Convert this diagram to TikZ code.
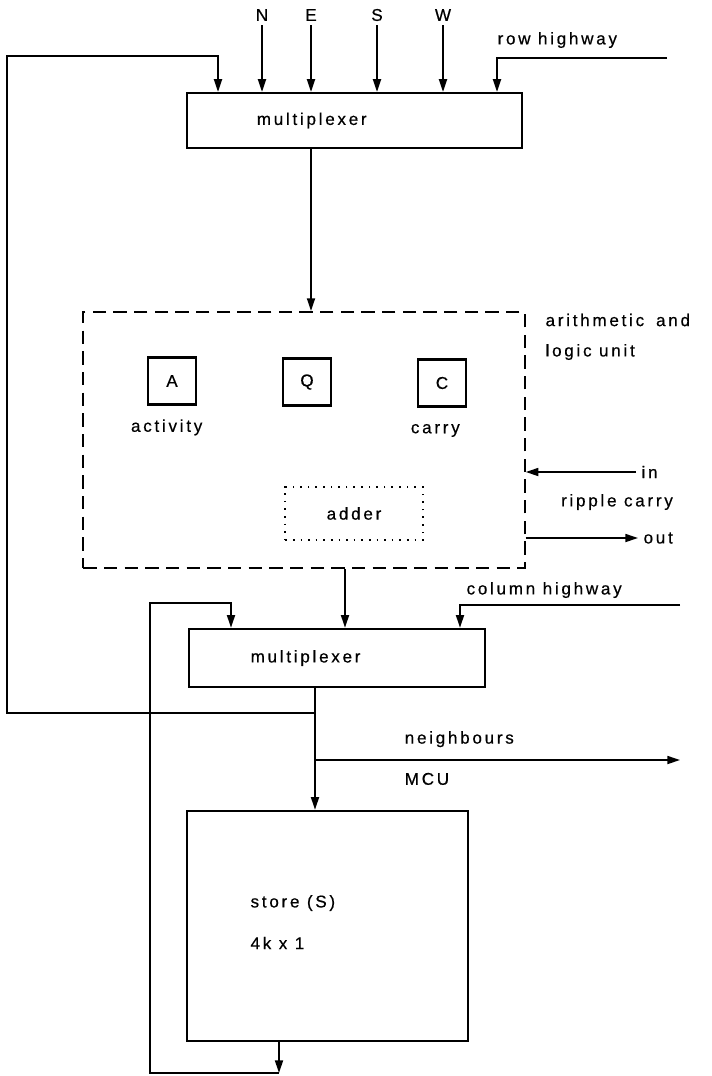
\documentclass[tikz,border=0pt]{standalone}
\usepackage{fontspec}
\setmainfont{Liberation Sans}[LetterSpace=16, FakeBold=0.5]
\usetikzlibrary{arrows.meta, positioning}

\begin{document}
\begin{tikzpicture}[x=0.75pt, y=-0.75pt,
  font=\fontsize{12.8}{14}\selectfont,
  blk/.style={draw, line width=1.9pt, inner sep=0pt},
  reg/.style={draw, line width=2.2pt, minimum width=36pt, minimum height=35pt, inner sep=0pt},
  txt/.style={inner sep=1pt},
  arr/.style={-{Triangle[length=9.5pt, width=6pt]}, line width=1.3pt}]

  \useasboundingbox (0,0) rectangle (712,1076);

  % blocks
  \node[blk, minimum width=251pt, minimum height=41pt] (mux1) at (354.5,120.5) {};
  \node[blk, line width=1.6pt, dash pattern=on 10pt off 5.5pt, minimum width=331pt, minimum height=192pt] (alu) at (304,440) {};
  \node[reg] (regA) at (172,381) {A};
  \node[reg] (regQ) at (307,382) {Q};
  \node[reg] (regC) at (442,383) {C};
  \node[blk, line width=1.6pt, dash pattern=on 1.2pt off 4.5pt, minimum width=103pt, minimum height=40pt] (adder) at (354,513.5) {adder};
  \node[blk, minimum width=222pt, minimum height=43.5pt] (mux2) at (337,658) {};
  \node[blk, minimum width=211pt, minimum height=172.5pt] (store) at (327.5,926) {};

  % labels
  \node[txt, right=52pt of mux1.west] {multiplexer};
  \node[txt, right=46pt of mux2.west] {multiplexer};
  \node[txt, below=9pt of regA, xshift=-4pt] {activity};
  \node[txt, below=11pt of regC, xshift=-5pt] {carry};
  \node[txt, anchor=west] at (544,320) {arithmetic\hspace{0.7em}and};
  \node[txt, anchor=west] at (544,352) {logic unit};
  \node[txt] at (617,502) {ripple carry};
  \node[txt, anchor=west] at (496,40) {row highway};
  \node[txt, anchor=west] at (465,590) {column highway};
  \node[txt, anchor=west] at (249,903) {store (S)};
  \node[txt, anchor=west] at (249,943) {4k x 1};

  % inputs to the top multiplexer
  \foreach \dir/\xx in {N/262, E/311, S/377, W/443}
    \node[txt, inner sep=3pt] (in\dir) at (\xx,15) {\dir};
  \foreach \dir in {N,E,S,W}
    \draw[arr] (in\dir) -- (in\dir |- mux1.north);

  \coordinate (rowhw) at (667,58);
  \coordinate (rowin) at (497,0);
  \draw[arr] (rowhw) -| (rowin |- mux1.north);

  \coordinate (colhw) at (680,605);
  \coordinate (colin) at (460,0);
  \draw[arr] (colhw) -| (colin |- mux2.north);

  % data path
  \coordinate (aluout) at (345,0);
  \coordinate (sbus) at (315,0);
  \draw[arr] (inE |- mux1.south) -- (inE |- alu.north);
  \draw[arr] (aluout |- alu.south) -- (aluout |- mux2.north);
  \draw[arr] (sbus |- mux2.south) -- (sbus |- store.north);

  % ripple carry
  \node[txt, inner sep=4pt, anchor=west] (cin) at (636,472) {in};
  \node[txt, inner sep=4pt, anchor=west] (cout) at (638,538) {out};
  \draw[arr] (cin) -- (cin -| alu.east);
  \draw[arr] (cout -| alu.east) -- (cout);

  % neighbours / MCU
  \coordinate (tapN) at (315,760);
  \coordinate (nbr) at (680,760);
  \draw[arr] (tapN) -- (nbr)
    node[txt, pos=0.24, anchor=south west, yshift=8pt] {neighbours}
    node[txt, pos=0.24, anchor=north west, yshift=-8pt] {MCU};

  % feedback loops
  \coordinate (tapL) at (315,713);
  \coordinate (loopL) at (7,56);
  \coordinate (fbtop) at (218,0);
  \draw[arr] (tapL) -| (loopL) -| (fbtop |- mux1.north);

  \coordinate (sout) at (279,0);
  \coordinate (loopB) at (150,1073);
  \coordinate (loopI) at (150,603);
  \coordinate (fbbot) at (231,0);
  \draw[arr] (sout |- store.south) -- (sout |- loopB);
  \draw[arr] (sout |- loopB) -- (loopB) -- (loopI) -| (fbbot |- mux2.north);
\end{tikzpicture}
\end{document}
